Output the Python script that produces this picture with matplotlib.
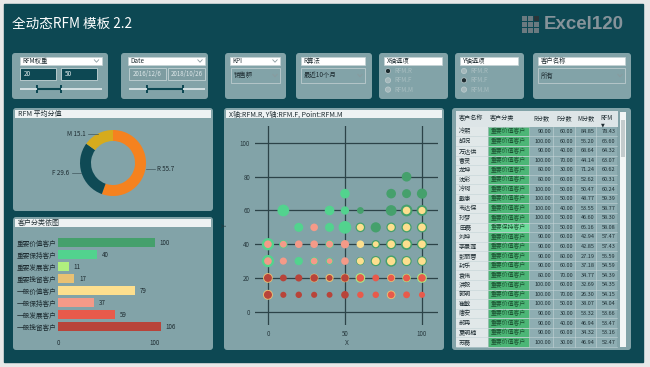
import numpy as np
import matplotlib.pyplot as plt
from matplotlib.patches import FancyBboxPatch, Rectangle, Circle

plt.rcParams['font.family'] = ['Noto Sans CJK SC', 'DejaVu Sans']

W, H = 650, 367

# ---------------- data ----------------
rfm_labels = ['R', 'F', 'M']
rfm_avg = [55.7, 29.6, 15.1]

segments = ['重要价值客户', '重要保持客户', '重要发展客户', '重要挽留客户',
            '一般价值客户', '一般保持客户', '一般发展客户', '一般挽留客户']
seg_counts = [100, 40, 11, 17, 79, 37, 59, 106]

# scatter: R score, F score, bubble size (M), segment index
sc_r = [90,
        50, 80, 90, 100,
        10, 40, 50, 60, 80, 90, 90, 100, 100,
        20, 30, 40, 50, 60, 60, 70, 80, 80, 90, 90, 100, 100,
        0, 0, 10, 10, 20, 30, 40, 40, 50, 60, 70, 70, 80, 80, 90, 90, 100, 100,
        0, 0, 10, 20, 30, 30, 40, 40, 50, 60, 60, 70, 70, 80, 80, 90, 90, 100, 100,
        0, 0, 10, 20, 30, 30, 40, 40, 50, 50, 60, 60, 70, 80, 80, 90, 90, 100, 100,
        0, 0, 10, 20, 30, 40, 50, 60, 70, 80, 80, 90, 100]
sc_f = [80,
        70, 70, 70, 70,
        60, 60, 60, 60, 60, 60, 60, 60, 60,
        50, 50, 50, 50, 50, 50, 50, 50, 50, 50, 50, 50, 50,
        40, 40, 40, 40, 40, 40, 40, 40, 40, 40, 40, 40, 40, 40, 40, 40, 40, 40,
        30, 30, 30, 30, 30, 30, 30, 30, 30, 30, 30, 30, 30, 30, 30, 30, 30, 30, 30,
        20, 20, 20, 20, 20, 20, 20, 20, 20, 20, 20, 20, 20, 20, 20, 20, 20, 20, 20,
        10, 10, 10, 10, 10, 10, 10, 10, 10, 10, 10, 10, 10]
sc_m = [40,
        40, 40, 35, 45,
        60, 40, 30, 20, 50, 60, 25, 50, 22,
        35, 25, 35, 70, 40, 22, 45, 40, 22, 45, 25, 45, 25,
        65, 25, 30, 20, 25, 25, 30, 22, 30, 25, 30, 15, 45, 25, 55, 27, 45, 25,
        65, 25, 22, 30, 28, 20, 22, 14, 25, 30, 22, 45, 27, 55, 30, 45, 27, 40, 25,
        40, 27, 20, 22, 32, 25, 28, 15, 32, 25, 40, 25, 20, 28, 18, 30, 22, 40, 25,
        42, 28, 16, 18, 16, 15, 25, 18, 18, 32, 20, 20, 16]
sc_seg = [0,
          1, 0, 0, 0,
          1, 1, 1, 0, 0, 0, 4, 0, 4,
          1, 5, 1, 1, 0, 4, 0, 0, 4, 0, 4, 0, 4,
          1, 5, 1, 5, 5, 5, 1, 5, 5, 4, 0, 4, 0, 4, 0, 4, 0, 4,
          1, 5, 5, 1, 1, 5, 1, 5, 5, 0, 4, 0, 4, 0, 4, 0, 4, 0, 4,
          3, 7, 7, 7, 3, 7, 3, 7, 3, 7, 2, 6, 6, 3, 6, 2, 6, 2, 6,
          3, 7, 7, 7, 7, 7, 7, 6, 6, 3, 6, 6, 6]

names = ['冷熙', '胡况', '万达供', '曹灵', '龙坤', '沈彩', '冷珂', '戴康', '韦达保',
         '孙梦', '田磊', '刘坤', '李景莲', '彭丽蓉', '封乐', '袁伟', '洪毅', '郭明',
         '崔敏', '唐安', '郝冉', '夏明楠', '苏磊']
name_seg = [0, 0, 0, 0, 0, 0, 0, 0, 0, 0, 1, 0, 0, 0, 0, 0, 0, 0, 0, 0, 0, 0, 0]
r_score = [90, 100, 90, 100, 80, 80, 100, 100, 100, 100, 50, 90, 90, 90, 90, 80,
           100, 100, 100, 90, 90, 90, 100]
f_score = [60, 60, 40, 70, 30, 60, 50, 50, 40, 50, 50, 60, 60, 80, 60, 70,
           60, 70, 50, 30, 40, 60, 30]
m_score = [84.85, 55.20, 68.64, 44.14, 71.24, 52.62, 50.47, 48.77, 53.55, 46.60,
           66.16, 42.94, 42.85, 27.19, 37.18, 34.77, 32.69, 26.30, 38.07, 53.32,
           46.94, 34.32, 46.94]
rfm_score = [78.43, 65.60, 64.32, 63.07, 60.62, 60.31, 60.24, 59.39, 58.77, 58.30,
             58.08, 57.47, 57.43, 55.59, 54.59, 54.39, 54.35, 54.15, 54.04, 53.66,
             53.47, 53.16, 52.47]

# ---------------- style ----------------
DARK = '#0d4853'
PANEL = '#82a3a8'
BAR_LIGHT = '#eef2f3'
TXT = '#1e2c31'
seg_colors = ['#45a06c', '#52d38e', '#b0f07e', '#e9c173',
              '#fddf8e', '#f49a88', '#e85a4b', '#b8443a']
cell_colors = {0: '#4cb676', 1: '#6ddc9b'}

fig = plt.figure(figsize=(6.5, 3.67), dpi=100)
fig.patch.set_facecolor('#e8e8e8')


def px_axes(x, y, w, h):
    return fig.add_axes([x / W, 1 - (y + h) / H, w / W, h / H])


bg = px_axes(0, 0, W, H)
bg.set_xlim(0, W)
bg.set_ylim(H, 0)
bg.axis('off')
bg.add_patch(Rectangle((4, 4), 639, 358, color=DARK))


def panel(x0, y0, x1, y1):
    bg.add_patch(FancyBboxPatch((x0, y0), x1 - x0, y1 - y0,
                                boxstyle='round,pad=0,rounding_size=3',
                                fc=PANEL, ec='none'))


def title_bar(x0, y0, x1, text):
    bg.add_patch(Rectangle((x0 + 2, y0 + 2), x1 - x0 - 4, 8.3, fc=BAR_LIGHT, ec='none'))
    bg.text(x0 + 5, y0 + 6.3, text, fontsize=5, color=TXT, va='center')


def dropdown(x0, x1, y0, y1, text, fc='white', tc=TXT, chevron=True):
    bg.add_patch(Rectangle((x0, y0), x1 - x0, y1 - y0, fc=fc, ec='#c7d3d5', lw=0.5))
    bg.text(x0 + 2.5, (y0 + y1) / 2, text, fontsize=4.6, color=tc, va='center')
    if chevron:
        cx, cy = x1 - 5, (y0 + y1) / 2
        bg.plot([cx - 2.2, cx, cx + 2.2], [cy - 1.2, cy + 1.2, cy - 1.2],
                color='#8a9a9e', lw=0.6)


def slider(x0, x1, h0, h1, y=89):
    bg.plot([x0, x1], [y, y], color='#dbe6e8', lw=1.3, solid_capstyle='butt')
    bg.plot([h0, h1], [y, y], color=DARK, lw=1.5, solid_capstyle='butt')
    for h in (h0, h1):
        bg.add_patch(Rectangle((h - 1, y - 4), 2, 8, fc=DARK, ec='none'))


def radios(x0, header, sel):
    dropdown(x0 + 5, x0 + 63, 57, 65, header, chevron=False)
    for k, lab in enumerate(['RFM.R', 'RFM.F', 'RFM.M']):
        yy = 71 + k * 9.3
        if k == sel:
            bg.add_patch(Circle((x0 + 9, yy), 2.6, fc='#1d2c30', ec='#aebfc2', lw=0.6))
        else:
            bg.add_patch(Circle((x0 + 9, yy), 2.6, fc='#a4b8bb', ec='#b9c9cb', lw=0.6))
        bg.text(x0 + 15, yy, lab, fontsize=4.4, color='#a9bec1', va='center')


# header
bg.text(12, 24, '全动态RFM 模板 2.2', fontsize=9.8, color='white', va='center')
for i in range(3):
    for j in range(3):
        c = '#2a3438' if (i == 0 and j == 2) else '#6b7a80'
        bg.add_patch(Rectangle((522 + j * 6, 16 + i * 6), 5, 5, fc=c, ec='none'))
bg.text(544, 24.5, 'Excel120', fontsize=13.5, fontweight='bold', color='#86939a',
        va='center', family='Liberation Sans')

# filter panels
panel(12, 53, 108, 99)
dropdown(19.5, 101.5, 57, 65, 'RFM权重')
for x0, t in [(19.5, '20'), (61, '50')]:
    bg.add_patch(Rectangle((x0, 68), 36, 12, fc=DARK, ec='#c8d6d8', lw=0.6))
    bg.text(x0 + 4, 74, t, fontsize=4.6, color='#e3ecee', va='center')
slider(19.5, 101.5, 37, 61)

panel(121, 53, 208, 99)
dropdown(128, 205, 57, 65, 'Date')
for x0, x1, t in [(128.5, 166, '2016/12/6'), (168, 205, '2018/10/26')]:
    bg.add_patch(Rectangle((x0, 68), x1 - x0, 12, fc='#7d9ca1', ec='#c3d2d4', lw=0.6))
    bg.text((x0 + x1) / 2, 74, t, fontsize=4.4, color='#dde7e9', va='center', ha='center')
slider(128.5, 205, 147, 182.5)

panel(225, 53, 286, 99)
dropdown(230, 280, 57, 65, 'KPI')
dropdown(231, 280, 68, 83, '销售额', fc=PANEL, tc=TXT)

panel(296, 53, 372, 99)
dropdown(301, 365, 57, 65, 'R算法', chevron=False)
dropdown(301, 365, 68, 83, '最近10个月', fc=PANEL, tc=TXT)

panel(379, 53, 448, 99)
radios(379, 'X轴选项', 0)
panel(455, 53, 524, 99)
radios(455, 'Y轴选项', 1)

panel(533, 53, 631, 99)
dropdown(538, 625, 57, 65, '客户名称', chevron=False)
dropdown(538, 625, 68, 83, '所有', fc=PANEL, tc=TXT)

# content panels
panel(13, 108, 213, 211)
title_bar(13, 108, 213, 'RFM 平均分值')
panel(13, 217, 213, 350)
title_bar(13, 217, 213, '客户分类依图')
panel(224, 108, 444, 350)
title_bar(224, 108, 444, 'X轴:RFM.R, Y轴:RFM.F, Point:RFM.M')
panel(452, 108, 631, 350)

# ---------------- donut ----------------
dax = px_axes(40, 118, 146, 90)
dax.pie(rfm_avg, radius=1, startangle=90, counterclock=False,
        colors=['#f5821f', '#0f4a55', '#d6ab1d'],
        wedgeprops=dict(width=0.333, edgecolor='none'))
dax.set_xlim(-73 / 33, 73 / 33)
dax.set_ylim(-45 / 33, 45 / 33)
dax.set_facecolor('none')
tot = sum(rfm_avg)
a0 = 90.0
for lab, v in zip(rfm_labels, rfm_avg):
    a1 = a0 - v / tot * 360
    mid = np.deg2rad((a0 + a1) / 2)
    x, y = np.cos(mid), np.sin(mid)
    sgn = 1 if x > 0 else -1
    dax.plot([x, x + sgn * 0.3], [y, y], color='#40585e', lw=0.5)
    dax.text(x + sgn * 0.36, y, f'{lab} {v}', fontsize=4.5, color=TXT,
             ha='left' if sgn > 0 else 'right', va='center')
    a0 = a1

# ---------------- bars ----------------
bax = px_axes(58, 234, 142, 99)
bax.set_facecolor('none')
ypos = np.arange(len(segments))
bax.barh(ypos, seg_counts, height=0.75, color=seg_colors)
for yy, v in zip(ypos, seg_counts):
    bax.text(v + 5, yy, str(v), fontsize=4.5, color=TXT, va='center')
bax.set_xlim(0, 146.4)
bax.set_ylim(7.5, -0.72)
bax.set_yticks(ypos)
bax.set_yticklabels(segments)
for t in bax.get_yticklabels():
    t.set_ha('left')
bax.set_xticks([0, 100])
bax.tick_params(axis='y', length=0, pad=29.5, labelsize=4.8, colors=TXT)
bax.tick_params(axis='x', length=0, pad=4, labelsize=4.5, colors=TXT)
for s in bax.spines.values():
    s.set_visible(False)

# ---------------- scatter ----------------
sax = px_axes(255, 126, 183, 199)
sax.set_facecolor('none')
order = sorted(range(len(sc_m)), key=lambda i: -sc_m[i])
sax.scatter([sc_r[i] for i in order], [sc_f[i] for i in order],
            s=[sc_m[i] * 1.2 for i in order],
            c=[seg_colors[sc_seg[i]] for i in order], linewidths=0, zorder=3)
sax.set_xlim(-8.4, 110.4)
sax.set_ylim(-7.9, 110.1)
sax.set_xticks([0, 50, 100])
sax.set_yticks([0, 20, 40, 60, 80, 100])
sax.grid(True, color='#2c4348', lw=0.9)
sax.set_axisbelow(True)
sax.tick_params(length=0, labelsize=4.5, colors='#27383d')
sax.tick_params(axis='y', pad=3.5)
sax.tick_params(axis='x', pad=3.5)
for s in sax.spines.values():
    s.set_visible(False)
sax.set_xlabel('X', fontsize=4.8, color='#27383d', labelpad=1)
sax.set_ylabel('Y', fontsize=4.8, color='#27383d', labelpad=8)

# ---------------- table ----------------
tax = px_axes(455, 111, 173, 237)
tax.set_xlim(455, 628)
tax.set_ylim(22.6, -2.16)
tax.axis('off')
n = len(names)
tax.add_patch(Rectangle((456, -2.16), 162, 1.66, fc='#dde5e7', ec='none'))
tax.add_patch(Rectangle((456, -0.5), 32, n, fc='#e1e8e9', ec='none'))
tax.add_patch(Rectangle((529, -0.5), 88, n, fc='#8eadb2', ec='none'))
for i in range(n):
    tax.add_patch(Rectangle((488, i - 0.5), 41, 1, fc=cell_colors[name_seg[i]],
                            ec='#b9cfc4', lw=0.4))
    tax.plot([456, 617], [i + 0.5, i + 0.5], color='#c4d4d7', lw=0.4)
for xv in [553, 574.5, 596]:
    tax.plot([xv, xv], [-0.5, n - 0.5], color='#c4d4d7', lw=0.4)
hdr = ['客户名称', '客户分类', 'R分数', 'F分数', 'M分数', 'RFM']
hdr_x = [459, 490, 533, 556, 577, 600]
for hx, ht in zip(hdr_x, hdr):
    tax.text(hx, -1.43, ht, fontsize=4.4, color=TXT, va='center')
tax.text(603, -0.75, '▼', fontsize=3.5, color=TXT, va='center', ha='center',
         family='DejaVu Sans')
for i in range(n):
    tax.text(459, i, names[i], fontsize=4.4, color=TXT, va='center')
    tax.text(508.5, i, segments[name_seg[i]], fontsize=4.2, color='#1b4f30',
             va='center', ha='center')
    for xr, col in [(551.5, r_score), (573, f_score), (594.5, m_score), (615.5, rfm_score)]:
        tax.text(xr, i, f'{col[i]:.2f}', fontsize=4.0, color='#1f3035',
                 va='center', ha='right')
tax.add_patch(Rectangle((620, -2.1), 6, 24.6, fc='#f2f5f5', ec='none'))
tax.add_patch(Rectangle((621, -1.2), 4, 3.8, fc='#c3cbcd', ec='none'))

fig.savefig('out.png', dpi=100, facecolor=fig.get_facecolor())
